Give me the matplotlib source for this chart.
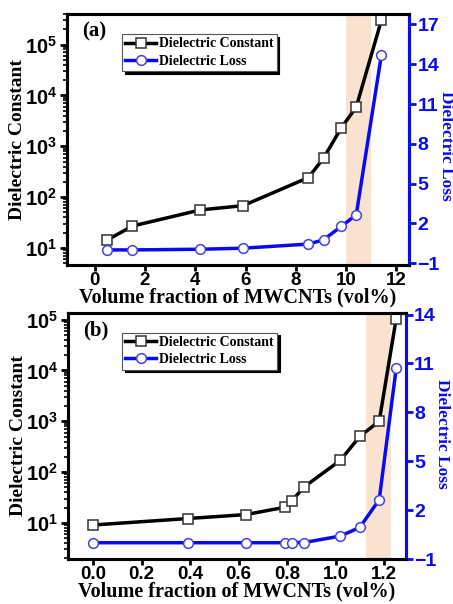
import matplotlib.pyplot as plt
from matplotlib.ticker import LogLocator, NullFormatter

# panel (a)
xa = [0.5, 1.5, 4.2, 5.9, 8.5, 9.1, 9.8, 10.4, 11.4]
consta = [14.4, 27, 56, 68, 243, 585, 2280, 5900, 3.0e5]
lossa = [0.0, 0.0, 0.05, 0.13, 0.44, 0.76, 1.77, 2.65, 14.7]

# panel (b)
xb = [0.0, 0.39, 0.63, 0.79, 0.82, 0.87, 1.02, 1.10, 1.18, 1.25]
constb = [9.1, 12.2, 14.6, 20.3, 27.5, 51, 171, 507, 1000, 1.05e5]
lossb = [0.0, 0.0, 0.0, 0.0, 0.0, 0.01, 0.41, 0.94, 2.64, 10.7]

serif = 'Liberation Serif'
sans = 'Liberation Sans'
blue = '#0a0af0'
shade = '#f9e2d0'

plt.rcParams['mathtext.fontset'] = 'custom'
plt.rcParams['mathtext.rm'] = 'Liberation Sans:bold'
plt.rcParams['mathtext.bf'] = 'Liberation Sans:bold'
plt.rcParams['mathtext.default'] = 'rm'

fig = plt.figure(figsize=(4.53, 6.04), dpi=100)


def panel(rect, x, c, l, xlim, ylim, y2lim, y2ticks, xticks, xtl, band, tag, lossy):
    ax = fig.add_axes(rect)
    ax.axvspan(band[0], band[1], color=shade, lw=0, zorder=0)
    ax.plot(x, c, color='k', lw=2.5, marker='s', ms=6.5, mfc='white',
            mec='#333333', mew=1.1, label='Dielectric Constant', zorder=3)
    ax.set_yscale('log')
    ax.set_xlim(*xlim)
    ax.set_ylim(*ylim)
    ax.set_xticks(xticks)
    ax.set_xticklabels(xtl)
    ax.yaxis.set_major_locator(LogLocator(base=10, numticks=10))
    ax.yaxis.set_minor_locator(LogLocator(base=10, subs=range(2, 10), numticks=20))
    ax.yaxis.set_minor_formatter(NullFormatter())
    for s in ax.spines.values():
        s.set_linewidth(2.2)
    ax.tick_params(axis='y', which='major', direction='out', width=2, length=5,
                   labelsize=14.5, pad=2)
    ax.tick_params(axis='x', which='major', direction='out', width=2, length=4,
                   labelsize=13.5, pad=1)
    ax.tick_params(axis='y', which='minor', direction='out', width=1.2, length=3)
    for t in ax.get_xticklabels() + ax.get_yticklabels():
        t.set_fontfamily(sans)
        t.set_fontweight('bold')
    ax.set_ylabel('Dielectric Constant', fontfamily=serif, fontweight='bold',
                  fontsize=14)
    ax.yaxis.set_label_coords(-0.12, 0.5)
    ax.set_xlabel('Volume fraction of MWCNTs (vol%)', fontfamily=serif,
                  fontweight='bold', fontsize=14.5, labelpad=-1)
    ax.text(0.045, 0.93, tag, transform=ax.transAxes, fontfamily=serif,
            fontweight='bold', fontsize=15, va='center')

    ax2 = ax.twinx()
    ax2.plot(x, l, color=blue, lw=2.5, marker='o', ms=7, mfc='white',
             mec='#4444dd', mew=1.1, label='Dielectric Loss', zorder=3)
    ax2.set_ylim(*y2lim)
    ax2.set_yticks(y2ticks)
    for s in ax2.spines.values():
        s.set_linewidth(2.2)
    ax2.spines['right'].set_color(blue)
    ax2.tick_params(axis='y', direction='out', width=2, length=5, colors=blue,
                    labelsize=14, pad=1)
    for t in ax2.get_yticklabels():
        t.set_fontfamily(sans)
        t.set_fontweight('bold')
    ax2.set_ylabel('Dielectric Loss', fontfamily=serif, fontweight='bold',
                   fontsize=12.5, color=blue, rotation=270, va='center')
    ax2.yaxis.set_label_coords(1.108, lossy)

    h1, l1 = ax.get_legend_handles_labels()
    h2, l2 = ax2.get_legend_handles_labels()
    leg = ax2.legend(h1 + h2, l1 + l2, loc='upper left', bbox_to_anchor=(0.16, 0.92),
                     prop={'family': serif, 'weight': 'bold', 'size': 10},
                     fancybox=False, shadow={'color': 'k', 'alpha': 1},
                     edgecolor='#555555', handlelength=2.2, handletextpad=0.2,
                     borderpad=0.25, labelspacing=0.3, borderaxespad=0)
    leg.get_frame().set_linewidth(0.8)
    return ax, ax2


panel([0.148, 0.561, 0.755, 0.416], xa, consta, lossa, (-1.1, 12.5), (4.6, 4.0e5),
      (-1.15, 17.8), [-1, 2, 5, 8, 11, 14, 17], [0, 2, 4, 6, 8, 10, 12],
      ['0', '2', '4', '6', '8', '10', '12'], (10.0, 11.0), '(a)', 0.475)

panel([0.150, 0.0745, 0.746, 0.4075], xb, constb, lossb, (-0.104, 1.29), (1.95, 1.36e5),
      (-1.0, 14.1), [-1, 2, 5, 8, 11, 14], [0.0, 0.2, 0.4, 0.6, 0.8, 1.0, 1.2],
      ['0.0', '0.2', '0.4', '0.6', '0.8', '1.0', '1.2'], (1.127, 1.229), '(b)', 0.51)

fig.savefig('out.png', dpi=100)
